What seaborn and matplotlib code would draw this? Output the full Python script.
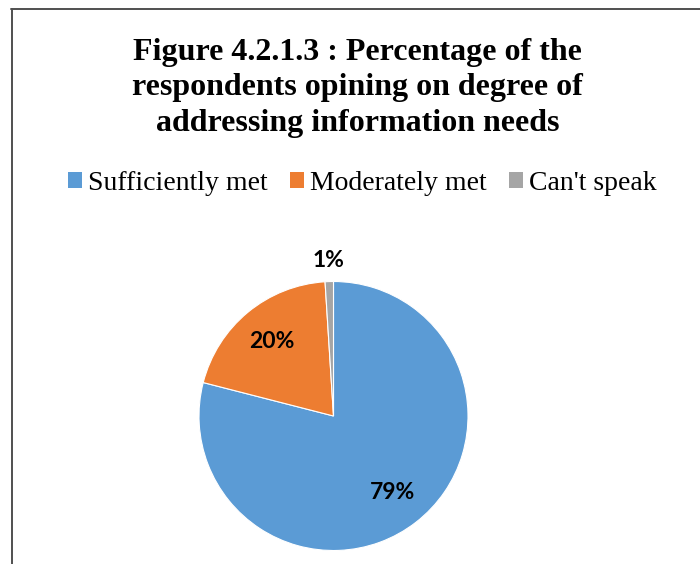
import numpy as np
import matplotlib
matplotlib.use("Agg")
import matplotlib.pyplot as plt
from matplotlib.lines import Line2D
from matplotlib.patches import Patch
import seaborn as sns

# Survey responses on how well information needs were addressed
categories = ["Sufficiently met", "Moderately met", "Can't speak"]
shares = [79, 20, 1]
slice_colors = ["#5B9BD5", "#ED7D31", "#A5A5A5"]
title_lines = [
    "Figure 4.2.1.3 : Percentage of the",
    "respondents opining on degree of",
    "addressing information needs",
]

sns.set_theme(style="white")
plt.rcParams["font.family"] = ["Liberation Serif", "DejaVu Serif"]

W, H = 700, 564
fig = plt.figure(figsize=(W / 100, H / 100), dpi=100)
fig.patch.set_facecolor("white")

# Chart frame (left and top edges visible)
frame_kw = dict(color="#505050", lw=1.4, transform=fig.transFigure)
fig.add_artist(Line2D([11.5 / W, 11.5 / W], [0, 1 - 9 / H], **frame_kw))
fig.add_artist(Line2D([11 / W, 1], [1 - 9 / H, 1 - 9 / H], **frame_kw))

# Title, one line per text so the baselines sit where wanted
baselines = [60, 95.5, 131]
for line, yb in zip(title_lines, baselines):
    fig.text(357.5 / W, 1 - yb / H, line, ha="center", va="baseline",
             fontsize=23, fontweight="bold", color="black")

# Pie
cx, cy, r = 333.5, 416, 134.5
ax = fig.add_axes([(cx - r) / W, (H - cy - r) / H, 2 * r / W, 2 * r / H])
wedges, texts, autotexts = ax.pie(
    shares, colors=slice_colors, startangle=90, counterclock=False,
    radius=1, autopct=lambda p: f"{p:.0f}%", pctdistance=0.72,
    wedgeprops=dict(edgecolor="white", linewidth=0.8),
    textprops=dict(fontsize=16.5, fontweight="bold", color="black",
                   family=["Lato", "DejaVu Sans"]),
)
ax.set_xlim(-1, 1)
ax.set_ylim(-1, 1)
ax.set_aspect("equal")
ax.axis("off")

# The tiny slice gets its label outside the rim
w = wedges[2]
mid = np.deg2rad((w.theta1 + w.theta2) / 2)
autotexts[2].set_position((1.155 * np.cos(mid), 1.155 * np.sin(mid)))

# Legend across the top
handles = [Patch(facecolor=c, edgecolor="none") for c in slice_colors]
fig.legend(handles, categories, loc="center", ncol=3,
           bbox_to_anchor=(362.5 / W, 1 - 183 / H), frameon=False,
           fontsize=20, labelcolor="black", handlelength=0.5,
           handleheight=0.5, handletextpad=0.22, columnspacing=0.8,
           borderaxespad=0, borderpad=0)

fig.savefig("out.png", dpi=100, facecolor="white")
